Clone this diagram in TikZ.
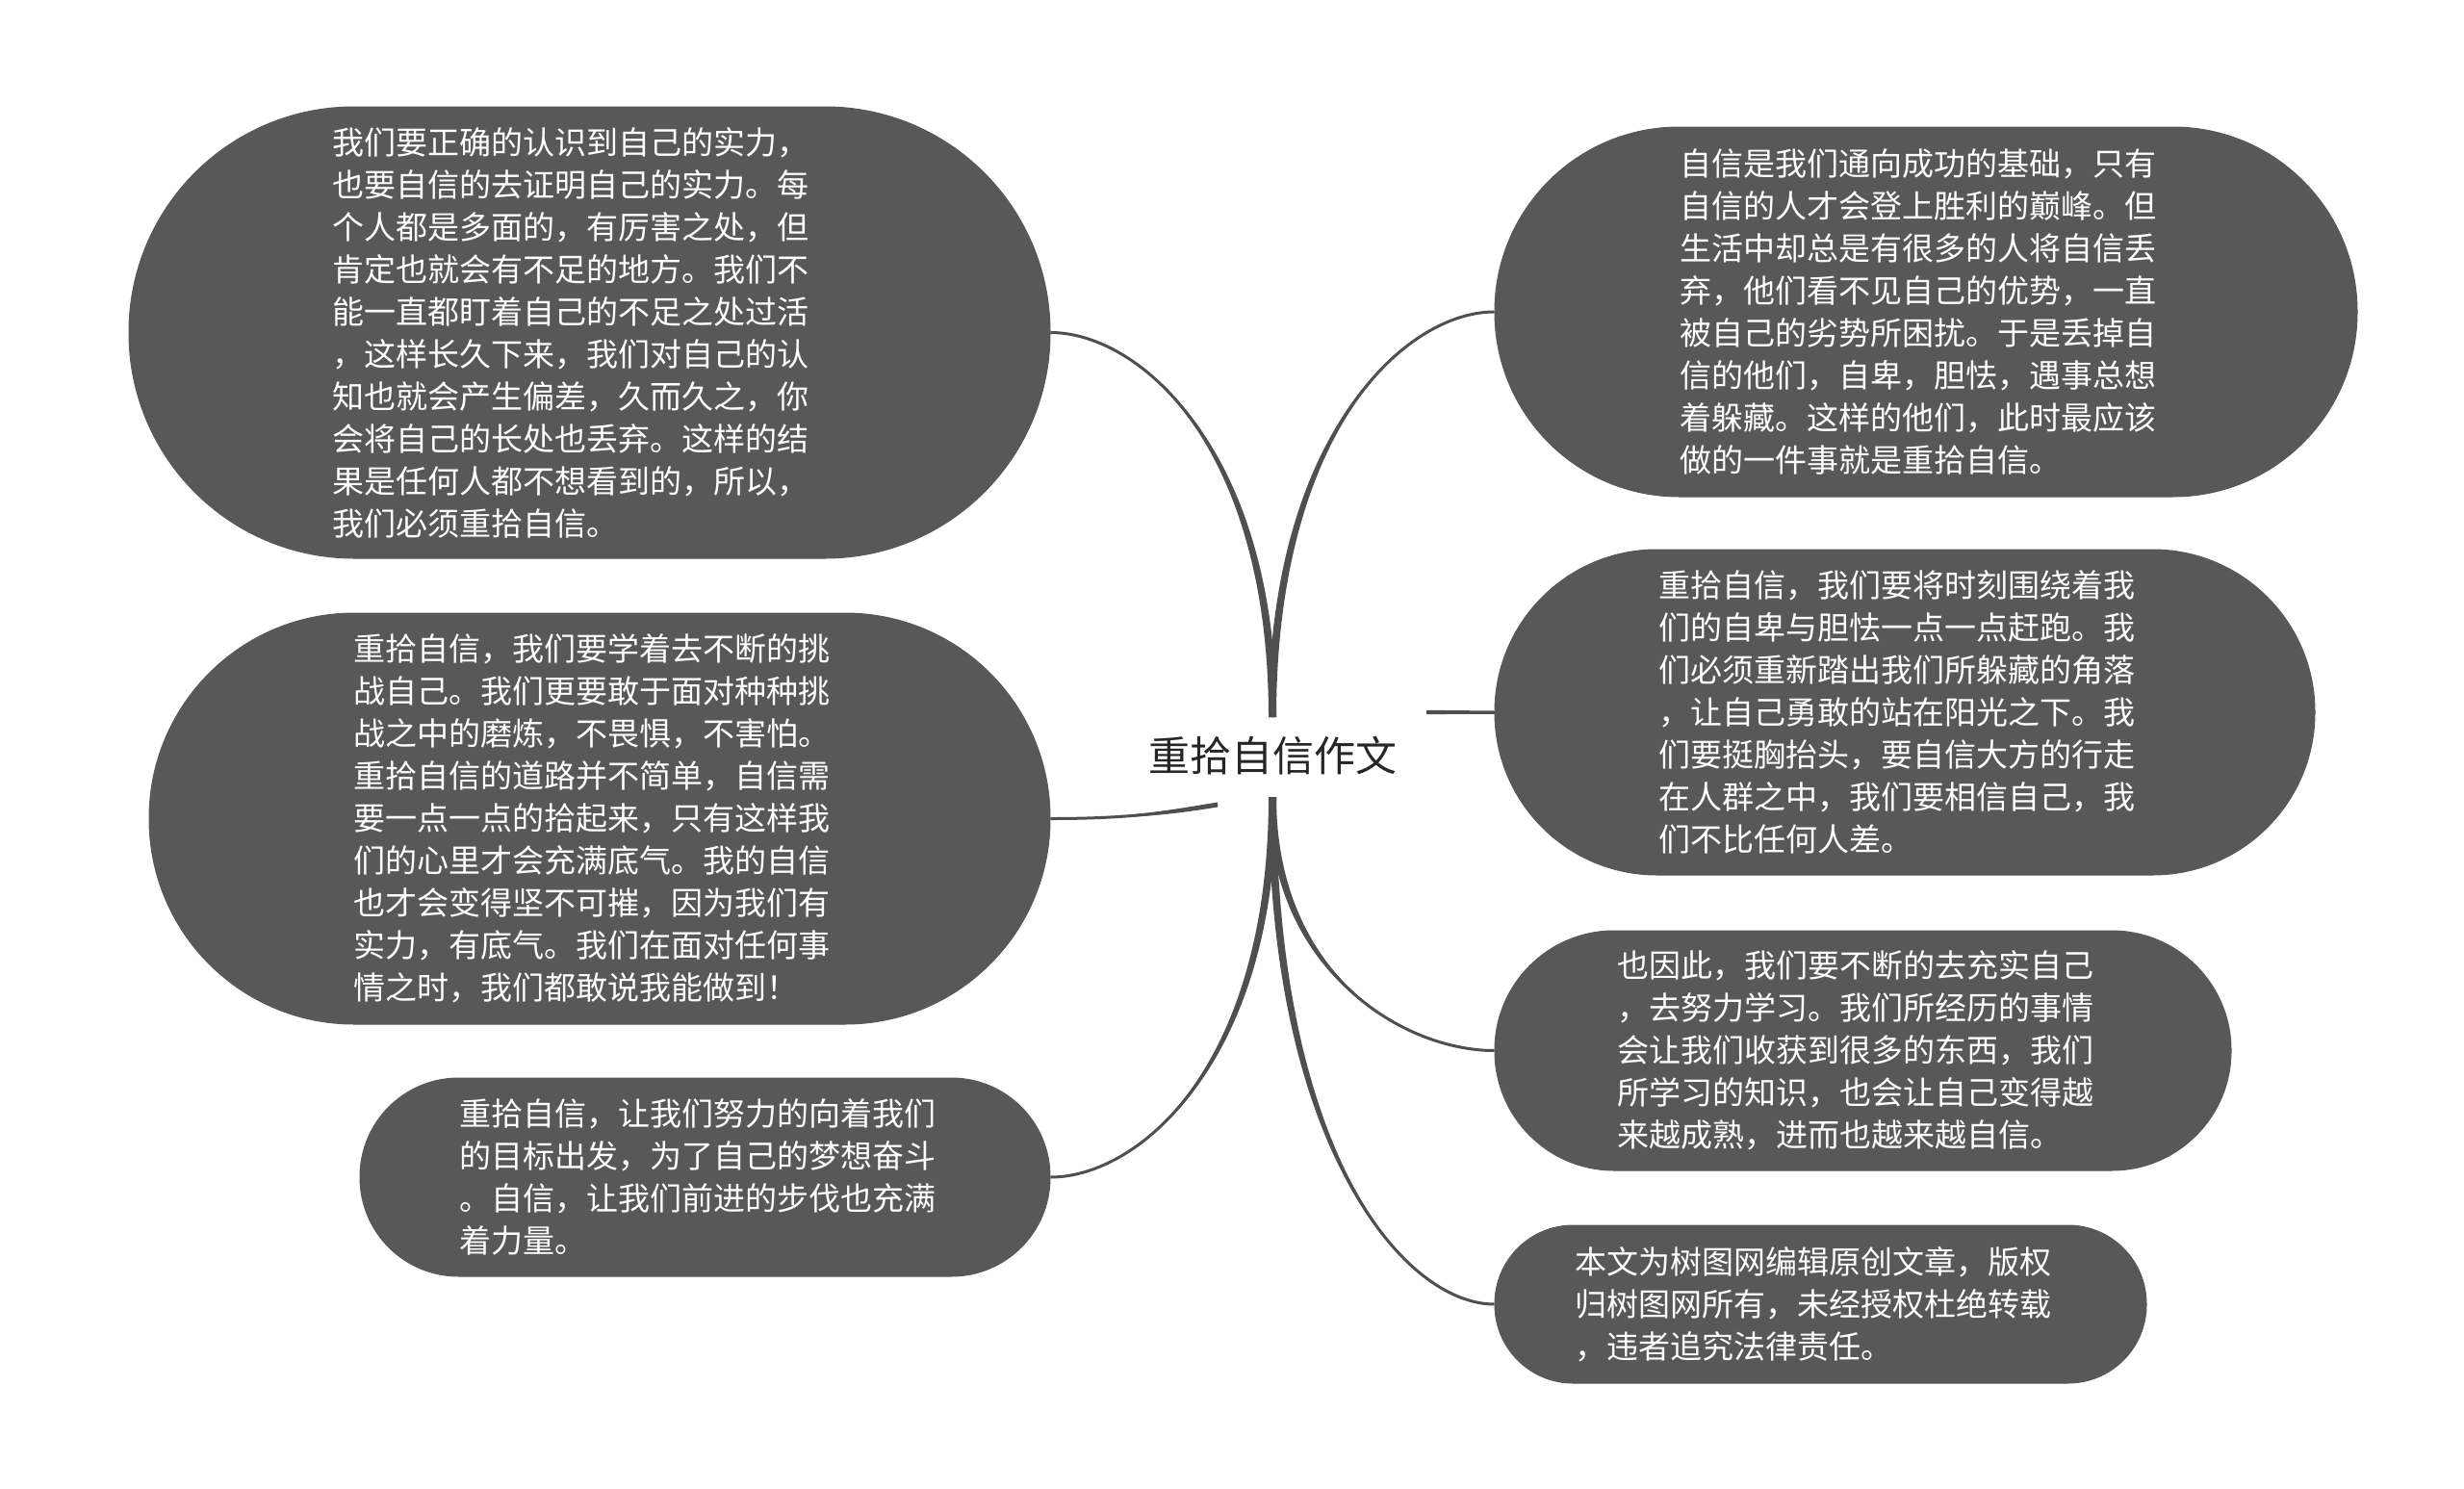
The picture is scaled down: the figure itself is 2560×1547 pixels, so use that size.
\documentclass[tikz,border=0pt]{standalone}
\usepackage{fontspec}
\newfontfamily\cjk{Noto Sans CJK SC}
\usetikzlibrary{calc}
\definecolor{bubblefill}{HTML}{585858}
\definecolor{linecol}{HTML}{4F4F4F}
\definecolor{roottext}{HTML}{262626}
\tikzset{
  bubble/.style={rectangle, fill=bubblefill, draw=bubblefill, line width=1pt,
    inner sep=0pt, align=left, text=white, text width=511pt,
    font={\cjk\fontsize{33}{44}\selectfont}},
  conn/.style={draw=linecol, line width=3pt},
  rootnode/.style={inner sep=0pt, text=roottext, font={\cjk\fontsize{43}{50}\selectfont}}
}
\newcommand\taper[3]{%
  \fill[linecol] ($(#1)+(-#3,0)$) .. controls ($(#1)!0.7!(#1|-#2)+(-#3,0)$) and ($(#2)!0.4!(#1|-#2)$) .. (#2)
     .. controls ($(#2)!0.4!(#1|-#2)$) and ($(#1)!0.7!(#1|-#2)+(#3,0)$) .. ($(#1)+(#3,0)$) -- cycle;
  \draw[conn] (#1) .. controls ($(#1)!0.7!(#1|-#2)$) and ($(#2)!0.4!(#1|-#2)$) .. (#2);
}
\begin{document}
\begin{tikzpicture}[x=1pt,y=-1pt]
\useasboundingbox[fill=white] (0,0) rectangle (2560,1547);

\node[rootnode] (root) at (1322,785) {重拾自信作文};
\coordinate (ctop) at (1322,745);
\coordinate (cbot) at (1322,828);
\coordinate (l2s) at (1265,836);
\coordinate (r2s) at (1482,740);

\node[bubble, text width=535pt, minimum width=957pt, minimum height=469pt, rounded corners=234pt] (L1) at (612.5,345.5) {我们要正确的认识到自己的实力，\\也要自信的去证明自己的实力。每\\个人都是多面的，有厉害之处，但\\肯定也就会有不足的地方。我们不\\能一直都盯着自己的不足之处过活\\，这样长久下来，我们对自己的认\\知也就会产生偏差，久而久之，你\\会将自己的长处也丢弃。这样的结\\果是任何人都不想看到的，所以，\\我们必须重拾自信。};

\node[bubble, minimum width=936pt, minimum height=427pt, rounded corners=213pt] (L2) at (623,850.5) {重拾自信，我们要学着去不断的挑\\战自己。我们更要敢于面对种种挑\\战之中的磨炼，不畏惧，不害怕。\\重拾自信的道路并不简单，自信需\\要一点一点的拾起来，只有这样我\\们的心里才会充满底气。我的自信\\也才会变得坚不可摧，因为我们有\\实力，有底气。我们在面对任何事\\情之时，我们都敢说我能做到！};

\node[bubble, minimum width=717pt, minimum height=206pt, rounded corners=102.5pt] (L3) at (732.5,1223) {重拾自信，让我们努力的向着我们\\的目标出发，为了自己的梦想奋斗\\。自信，让我们前进的步伐也充满\\着力量。};

\node[bubble, minimum width=896pt, minimum height=384pt, rounded corners=191.5pt] (R1) at (2001,324) {自信是我们通向成功的基础，只有\\自信的人才会登上胜利的巅峰。但\\生活中却总是有很多的人将自信丢\\弃，他们看不见自己的优势，一直\\被自己的劣势所困扰。于是丢掉自\\信的他们，自卑，胆怯，遇事总想\\着躲藏。这样的他们，此时最应该\\做的一件事就是重拾自信。};

\node[bubble, minimum width=852pt, minimum height=338pt, rounded corners=168.5pt] (R2) at (1979,740) {重拾自信，我们要将时刻围绕着我\\们的自卑与胆怯一点一点赶跑。我\\们必须重新踏出我们所躲藏的角落\\，让自己勇敢的站在阳光之下。我\\们要挺胸抬头，要自信大方的行走\\在人群之中，我们要相信自己，我\\们不比任何人差。};

\node[bubble, minimum width=765pt, minimum height=249pt, rounded corners=124pt] (R3) at (1935.5,1091.5) {也因此，我们要不断的去充实自己\\，去努力学习。我们所经历的事情\\会让我们收获到很多的东西，我们\\所学习的知识，也会让自己变得越\\来越成熟，进而也越来越自信。};

\node[bubble, minimum width=677pt, minimum height=164pt, rounded corners=81.5pt] (R4) at (1891.5,1355) {本文为树图网编辑原创文章，版权\\归树图网所有，未经授权杜绝转载\\，违者追究法律责任。};

\taper{ctop}{L1.east}{4}
\taper{ctop}{R1.west}{4}
\taper{cbot}{L3.east}{4}
\taper{cbot}{R3.west}{4}
\taper{cbot}{R4.west}{4}

\fill[linecol] ($(l2s)+(0,-2.5)$) .. controls ($(l2s)+(-60,7.5)$) and ($(L2.east)+(70,0)$) .. (L2.east)
   .. controls ($(L2.east)+(70,0)$) and ($(l2s)+(-60,12.5)$) .. ($(l2s)+(0,2.5)$) -- cycle;
\draw[conn] (l2s) .. controls ($(l2s)+(-60,10)$) and ($(L2.east)+(70,0)$) .. (L2.east);

\fill[linecol] ($(r2s)+(0,-2.2)$) -- ($(R2.west)+(0,-1.5)$) -- ($(R2.west)+(0,1.5)$) -- ($(r2s)+(0,2.2)$) -- cycle;
\draw[conn] (r2s) -- (R2.west);
\end{tikzpicture}
\end{document}
